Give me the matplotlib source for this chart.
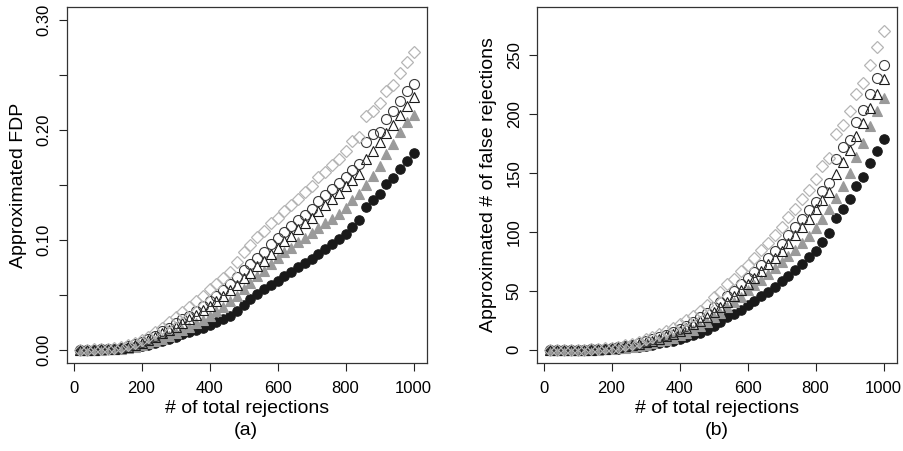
import matplotlib
matplotlib.use("Agg")
import matplotlib.pyplot as plt
import numpy as np

plt.rcParams['font.family'] = ['Liberation Sans', 'DejaVu Sans']

# number of total rejections
n_rej = [20, 40, 60, 80, 100, 120, 140, 160, 180, 200,
         220, 240, 260, 280, 300, 320, 340, 360, 380, 400,
         420, 440, 460, 480, 500, 520, 540, 560, 580, 600,
         620, 640, 660, 680, 700, 720, 740, 760, 780, 800,
         820, 840, 860, 880, 900, 920, 940, 960, 980, 1000]

# panel (a): approximated FDP
fdp_diam = [0, 0, 0.0003, 0.0006, 0.001, 0.0016, 0.0027, 0.0045, 0.0065, 0.009,
            0.012, 0.016, 0.020, 0.025, 0.030, 0.034, 0.039, 0.044, 0.049, 0.055,
            0.060, 0.065, 0.071, 0.080, 0.089, 0.095, 0.103, 0.108, 0.115, 0.120,
            0.126, 0.132, 0.137, 0.144, 0.149, 0.157, 0.162, 0.168, 0.174, 0.181,
            0.190, 0.194, 0.213, 0.217, 0.225, 0.236, 0.241, 0.252, 0.262, 0.271]
fdp_circ = [0, 0, 0.0002, 0.0004, 0.0007, 0.0011, 0.002, 0.0033, 0.0052, 0.0075,
            0.010, 0.013, 0.017, 0.020, 0.024, 0.028, 0.031, 0.035, 0.040, 0.044,
            0.049, 0.054, 0.060, 0.066, 0.073, 0.078, 0.084, 0.089, 0.096, 0.102,
            0.107, 0.113, 0.118, 0.123, 0.128, 0.135, 0.141, 0.146, 0.152, 0.157,
            0.164, 0.169, 0.189, 0.196, 0.198, 0.210, 0.217, 0.226, 0.236, 0.242]
fdp_otri = [0, 0, 0.0001, 0.0003, 0.0005, 0.0009, 0.0015, 0.0026, 0.0042, 0.0065,
            0.009, 0.012, 0.015, 0.018, 0.021, 0.024, 0.028, 0.032, 0.036, 0.040,
            0.044, 0.049, 0.054, 0.059, 0.065, 0.070, 0.076, 0.081, 0.087, 0.093,
            0.099, 0.104, 0.110, 0.115, 0.120, 0.126, 0.132, 0.137, 0.143, 0.149,
            0.155, 0.160, 0.174, 0.181, 0.189, 0.197, 0.205, 0.214, 0.222, 0.230]
fdp_gtri = [0, 0, 0.0001, 0.0002, 0.0004, 0.0006, 0.001, 0.0017, 0.003, 0.0045,
            0.0062, 0.008, 0.010, 0.013, 0.015, 0.018, 0.021, 0.024, 0.027, 0.031,
            0.035, 0.039, 0.044, 0.049, 0.055, 0.061, 0.067, 0.072, 0.078, 0.084,
            0.089, 0.093, 0.098, 0.102, 0.106, 0.111, 0.115, 0.119, 0.124, 0.129,
            0.136, 0.142, 0.150, 0.158, 0.167, 0.178, 0.187, 0.198, 0.207, 0.214]
fdp_dot = [0, 0.0001, 0.0002, 0.0004, 0.0006, 0.0009, 0.0012, 0.0017, 0.0024, 0.0033,
           0.0046, 0.0062, 0.008, 0.010, 0.012, 0.014, 0.016, 0.018, 0.020, 0.0225,
           0.025, 0.028, 0.031, 0.035, 0.041, 0.046, 0.051, 0.055, 0.059, 0.063,
           0.067, 0.071, 0.075, 0.079, 0.083, 0.087, 0.092, 0.096, 0.101, 0.105,
           0.112, 0.118, 0.130, 0.136, 0.142, 0.151, 0.156, 0.165, 0.172, 0.179]

# panel (b): approximated # of false rejections
nf_diam = [0, 0, 0.02, 0.05, 0.1, 0.19, 0.38, 0.72, 1.17, 1.8,
           2.64, 3.84, 5.2, 7.0, 9.0, 10.9, 13.3, 15.8, 18.6, 22.0,
           25.2, 28.6, 32.7, 38.4, 44.5, 49.4, 55.6, 60.5, 66.7, 72.0,
           78.1, 84.5, 90.4, 97.9, 104.3, 113.0, 119.9, 127.7, 135.7, 144.8,
           155.8, 163.0, 183.2, 191.0, 202.5, 217.1, 226.5, 241.9, 256.8, 271.0]
nf_circ = [0, 0, 0.01, 0.03, 0.07, 0.13, 0.28, 0.53, 0.94, 1.5,
           2.2, 3.1, 4.4, 5.6, 7.2, 9.0, 10.5, 12.6, 15.2, 17.6,
           20.6, 23.8, 27.6, 31.7, 36.5, 40.6, 45.4, 49.8, 55.7, 61.2,
           66.3, 72.3, 77.9, 83.6, 89.6, 97.2, 104.3, 111.0, 118.6, 125.6,
           134.5, 142.0, 162.5, 172.5, 178.2, 193.2, 204.0, 217.0, 231.3, 242.0]
nf_otri = [0, 0, 0.01, 0.02, 0.05, 0.11, 0.21, 0.42, 0.76, 1.3,
           2.0, 2.9, 3.9, 5.0, 6.3, 7.7, 9.5, 11.5, 13.7, 16.0,
           18.5, 21.6, 24.8, 28.3, 32.5, 36.4, 41.0, 45.4, 50.5, 55.8,
           61.4, 66.6, 72.6, 78.2, 84.0, 90.7, 97.7, 104.1, 111.5, 119.2,
           127.1, 134.4, 149.6, 159.3, 170.1, 181.2, 192.7, 205.4, 217.6, 230.0]
nf_gtri = [0, 0, 0.01, 0.02, 0.04, 0.07, 0.14, 0.27, 0.54, 0.9,
           1.4, 1.9, 2.6, 3.6, 4.5, 5.8, 7.1, 8.6, 10.3, 12.4,
           14.7, 17.2, 20.2, 23.5, 27.5, 31.7, 36.2, 40.3, 45.2, 50.4,
           55.2, 59.5, 64.7, 69.4, 74.2, 79.9, 85.1, 90.4, 96.7, 103.2,
           111.5, 119.3, 129.0, 139.0, 150.3, 163.8, 175.8, 190.1, 202.9, 214.0]
nf_dot = [0, 0, 0.01, 0.03, 0.06, 0.11, 0.17, 0.27, 0.43, 0.66,
          1.0, 1.5, 2.1, 2.8, 3.6, 4.5, 5.4, 6.5, 7.6, 9.0,
          10.5, 12.3, 14.3, 16.8, 20.5, 23.9, 27.5, 30.8, 34.2, 37.8,
          41.5, 45.4, 49.5, 53.7, 58.1, 62.6, 68.1, 73.0, 78.8, 84.0,
          91.8, 99.1, 111.8, 119.7, 127.8, 138.9, 146.6, 158.4, 168.6, 179.0]


def draw(ax, dot, gtri, otri, circ, diam):
    ax.plot(n_rej, dot, 'o', ms=6.8, mfc='#1a1a1a', mec='#1a1a1a', mew=0.8)
    ax.plot(n_rej, gtri, '^', ms=6.6, mfc='#9a9a9a', mec='#9a9a9a', mew=0.8)
    ax.plot(n_rej, otri, '^', ms=7.6, mfc='none', mec='#1a1a1a', mew=0.8)
    ax.plot(n_rej, circ, 'o', ms=7.2, mfc='none', mec='#3a3a3a', mew=0.8)
    ax.plot(n_rej, diam, 'D', ms=6.6, mfc='none', mec='#b5b5b5', mew=0.9)
    ax.set_xlim(-19.2, 1039.2)
    ax.set_xticks([0, 200, 400, 600, 800, 1000])
    ax.tick_params(axis='both', direction='out', length=6, width=0.8,
                   labelsize=12, color='#222222')
    ax.tick_params(axis='x', pad=7)
    ax.tick_params(axis='y', pad=5)
    for lbl in ax.get_yticklabels():
        lbl.set_rotation(90)
        lbl.set_va('center')
    for s in ax.spines.values():
        s.set_color('#333333')
        s.set_linewidth(0.9)
    ax.set_xlabel('# of total rejections', fontsize=14, labelpad=3)


fig = plt.figure(figsize=(9.04, 4.51), dpi=100)
ax1 = fig.add_axes([0.0741, 0.1951, 0.3982, 0.7894])
ax2 = fig.add_axes([0.5940, 0.1951, 0.3982, 0.7894])

# panel (a)
ax1.set_ylim(-0.012, 0.312)
yt1 = [0.0, 0.05, 0.10, 0.15, 0.20, 0.25, 0.30]
ax1.set_yticks(yt1)
ax1.set_yticklabels(['0.00', '', '0.10', '', '0.20', '', '0.30'])
draw(ax1, fdp_dot, fdp_gtri, fdp_otri, fdp_circ, fdp_diam)
ax1.set_ylabel('Approximated FDP', fontsize=14, labelpad=7)

# panel (b)
ax2.set_ylim(-11.2, 291.2)
ax2.set_yticks([0, 50, 100, 150, 200, 250])
draw(ax2, nf_dot, nf_gtri, nf_otri, nf_circ, nf_diam)
ax2.set_ylabel('Approximated # of false rejections', fontsize=14, labelpad=7)

fig.text(0.2720, 0.046, '(a)', ha='center', va='center', fontsize=14)
fig.text(0.7930, 0.046, '(b)', ha='center', va='center', fontsize=14)

fig.savefig('out.png', dpi=100)
